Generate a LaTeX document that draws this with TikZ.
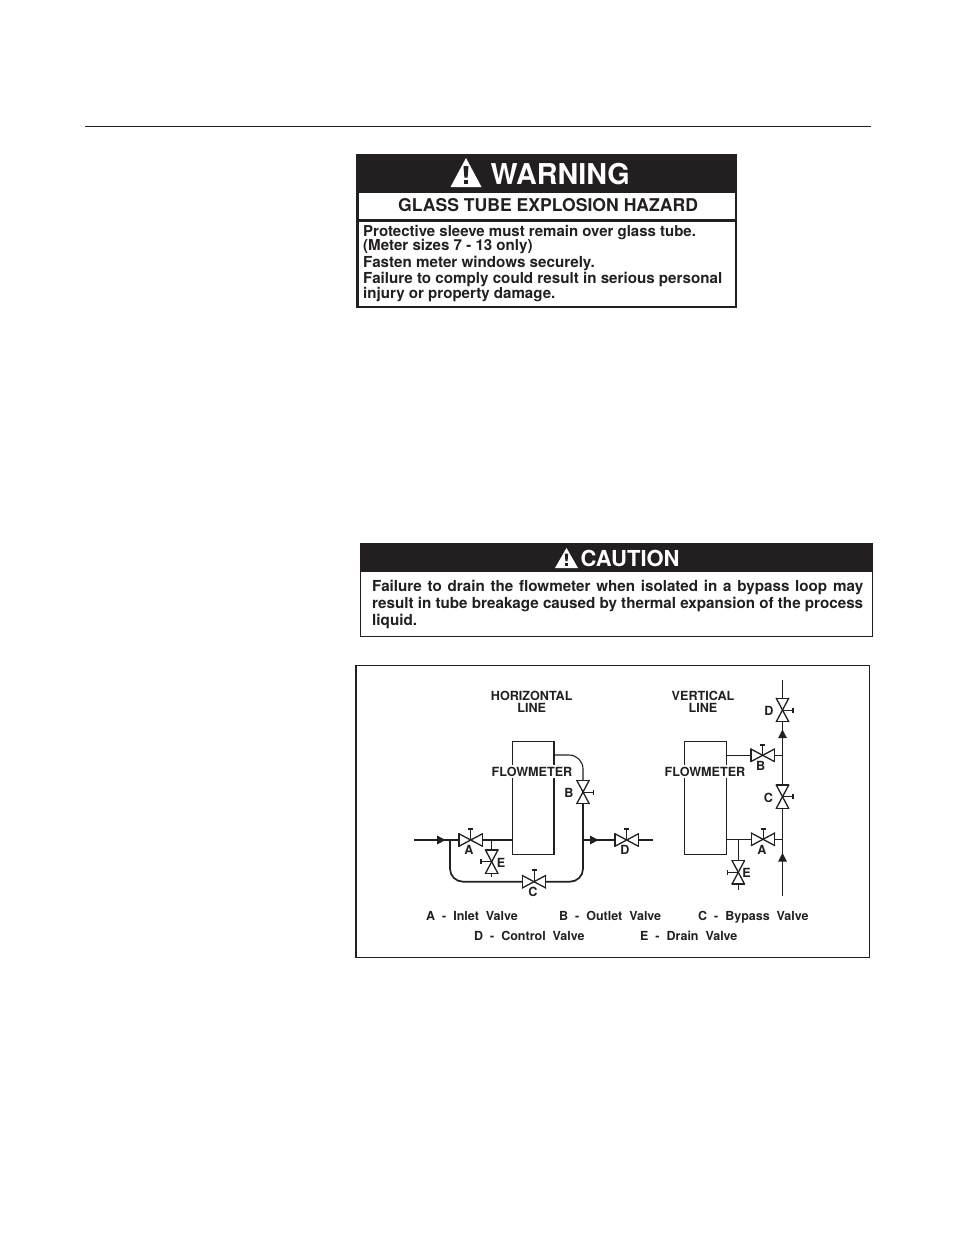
\documentclass[tikz,border=0pt]{standalone}
\usepackage{fontspec}
\setmainfont{TeX Gyre Heros}
\usepackage{xcolor}
\usetikzlibrary{
    arrows.meta,
    calc,
    positioning
}
\definecolor{ink}{HTML}{231F20}
\tikzset{
    frameline/.style={draw=ink, line width=#1},
    basetext/.style={anchor=base west, inner sep=0, text=ink, font=\fontsize{#1}{#1}\selectfont\bfseries},
    whitetext/.style={anchor=base west, inner sep=0, text=white, font=\fontsize{#1}{#1}\selectfont\bfseries},
    fig/.style={inner sep=0, text=ink, font=\fontsize{12.6}{12.6}\selectfont\bfseries},
    legend/.style={anchor=base west, inner sep=0, text=ink, font=\fontsize{12.5}{12.5}\selectfont\bfseries},
    pipe/.style={draw=ink, line width=1.7pt},
    thinpipe/.style={draw=ink, line width=1.1pt},
    valveline/.style={draw=ink, line width=1.3pt, line cap=round},
    stem/.style={draw=ink, line width=1pt, -{Bar[width=5pt, line width=1.5pt]}},
    flow/.style={-{Triangle[length=8.5pt, width=8.5pt]}},
    meter/.style={draw=ink, line width=1pt, outer sep=0, inner sep=0, minimum width=42, minimum height=113},
    tag/.style={fig, fill=white, inner xsep=1pt, inner ysep=2pt},
    hvalve/.style={inner sep=0, outer sep=0, minimum width=23.5, minimum height=12.5,
        append after command={
            (\tikzlastnode.north west) edge[valveline] (\tikzlastnode.south east)
            (\tikzlastnode.south east) edge[valveline] (\tikzlastnode.north east)
            (\tikzlastnode.north east) edge[valveline] (\tikzlastnode.south west)
            (\tikzlastnode.south west) edge[valveline] (\tikzlastnode.north west)}},
    vvalve/.style={inner sep=0, outer sep=0, minimum width=12.5, minimum height=23.5,
        append after command={
            (\tikzlastnode.north west) edge[valveline] (\tikzlastnode.south east)
            (\tikzlastnode.south east) edge[valveline] (\tikzlastnode.south west)
            (\tikzlastnode.south west) edge[valveline] (\tikzlastnode.north east)
            (\tikzlastnode.north east) edge[valveline] (\tikzlastnode.north west)}}
}
\begin{document}
\begin{tikzpicture}[x=1pt, y=-1pt]
    \useasboundingbox (0,0) rectangle (954,1235);
    \draw[frameline=1pt] (85,126.5) -- (871,126.5);

    % warning panel
    \draw[frameline=2.6pt] (357.2,155) rectangle (735.8,307);
    \fill[ink] (356,154) rectangle (737,192.5);
    \fill[ink] (356,218.5) rectangle (737,221.5);
    \fill[white] (466,158) -- (481.5,187) -- (450.5,187) -- cycle;
    \fill[ink] (463.5,166) -- (468.5,166) -- (467.6,177.5) -- (464.4,177.5) -- cycle;
    \fill[ink] (463.8,179.5) rectangle (468.2,184);
    \node[whitetext=28.7] (warnhead) at (490.5,184.5) {WARNING};
    \node[basetext=17.6] (warnsub) at (398,211) {GLASS TUBE EXPLOSION HAZARD};
    \node[basetext=15] (warna) at (363,236) {Protective sleeve must remain over glass tube.};
    \node[basetext=15.1] (warnb) at (363,250) {(Meter sizes 7 - 13 only)};
    \node[basetext=15.2] (warnc) at (363,267) {Fasten meter windows securely.};
    \node[basetext=15.17] (warnd) at (363,283) {Failure to comply could result in serious personal};
    \node[basetext=15.1] (warne) at (363,298) {injury or property damage.};

    % caution panel
    \draw[frameline=1pt] (360.5,543.5) rectangle (872.5,636.5);
    \fill[ink] (360,543) rectangle (873,571.5);
    \fill[white] (566.5,548) -- (578,568) -- (555,568) -- cycle;
    \fill[ink] (564.8,553.5) -- (568.2,553.5) -- (567.6,561) -- (565.4,561) -- cycle;
    \fill[ink] (565,562.5) rectangle (568,565.8);
    \node[whitetext=22] (cauthead) at (580.5,566) {CAUTION};
    \node[basetext=15.2] (cauta) at (372,591.5) {\makebox[491pt][s]{Failure to drain the flowmeter when isolated in a bypass loop may}};
    \node[basetext=15.2] (cautb) at (372,608.5) {\makebox[491pt][s]{result in tube breakage caused by thermal expansion of the process}};
    \node[basetext=15.2] (cautc) at (372,625.5) {liquid.};

    % figure frame
    \draw[frameline=1.6pt] (356,665.5) rectangle (869.5,957.5);

    % horizontal line
    \node[fig] (hhead) at (531.7,696) {HORIZONTAL};
    \node[fig] (hheadb) at (531.7,708) {LINE};
    \node[meter] (hmeter) at (533.2,798) {};
    \draw[pipe] (hmeter.north west) -- (hmeter.north east) -- (hmeter.south east);
    \node[tag] (hname) at (532,771.5) {FLOWMETER};
    \coordinate (hin) at (414,840);
    \coordinate (htip) at (445.5,840);
    \coordinate (hjoin) at (450,840);
    \node[hvalve] (ha) at (470.7,840) {};
    \node[vvalve] (he) at (491.7,861.7) {};
    \node[hvalve] (hc) at (534,881.7) {};
    \node[vvalve] (hb) at (583,792) {};
    \node[hvalve] (hd) at (626.7,840) {};
    \coordinate (hout) at (hb.south |- hd.center);
    \coordinate (houttip) at (598.5,840);
    \coordinate (hend) at (652.7,840);
    \coordinate (hbtap) at (554,755);
    \draw[pipe] (hin) -- (ha.west);
    \draw[pipe, flow] (hin) -- (htip);
    \draw[pipe] (ha.east) -- (ha.east -| hmeter.west);
    \draw[pipe, rounded corners=13] (hjoin) |- (hc.west);
    \draw[pipe, rounded corners=13] (hc.east) -| (hb.south);
    \draw[pipe] (hout) -- (hd.west);
    \draw[pipe, flow] (hout) -- (houttip);
    \draw[pipe] (hd.east) -- (hend);
    \draw[thinpipe, rounded corners=14] (hbtap) -| (hb.north);
    \draw[thinpipe] (he.center |- hjoin) -- (he.north);
    \draw[thinpipe] (he.south) -- ++(0,4);
    \draw[stem] (ha.center) -- ++(0,-12);
    \draw[stem] (hd.center) -- ++(0,-12);
    \draw[stem] (hc.center) -- ++(0,-12.5);
    \draw[stem] (he.center) -- ++(-11.7,0);
    \draw[stem] (hb.center) -- ++(11.3,0);
    \node[fig] (hla) at (469,850) {A};
    \node[fig] (hle) at (501,862.5) {E};
    \node[fig] (hlc) at (533,892) {C};
    \node[fig] (hlb) at (569,793) {B};
    \node[fig] (hld) at (625,850) {D};

    % vertical line
    \node[fig] (vhead) at (703,696) {VERTICAL};
    \node[fig] (vheadb) at (703,708) {LINE};
    \node[meter] (vmeter) at (705.5,798) {};
    \draw[pipe] (vmeter.south west) -- (vmeter.north west) -- (vmeter.north east);
    \node[tag] (vname) at (705,771.5) {FLOWMETER};
    \node[vvalve] (vd) at (782.5,710) {};
    \node[vvalve] (vc) at (782.5,796.7) {};
    \node[hvalve] (vb) at (762.7,755.3) {};
    \node[hvalve] (va) at (763,839.3) {};
    \node[vvalve] (ve) at (738.3,872.3) {};
    \coordinate (vin) at (782.5,896);
    \coordinate (vtop) at (782.5,680);
    \coordinate (vtipa) at (782.5,853);
    \coordinate (vtipb) at (782.5,729.5);
    \draw[thinpipe] (vin) -- (vc.south);
    \draw[thinpipe] (vc.north) -- (vd.south);
    \draw[thinpipe] (vd.north) -- (vtop);
    \draw[thinpipe, flow] (782.5,862) -- (vtipa);
    \draw[thinpipe, flow] (782.5,738) -- (vtipb);
    \draw[thinpipe] (vmeter.east |- vb.center) -- (vb.west);
    \draw[thinpipe] (vb.east) -- (vb.east -| vc.center);
    \draw[thinpipe] (vmeter.east |- va.center) -- (va.west);
    \draw[thinpipe] (va.east) -- (va.east -| vc.center);
    \draw[thinpipe] (ve.center |- va.center) -- (ve.north);
    \draw[thinpipe] (ve.south) -- ++(0,5.5);
    \draw[stem] (vd.center) -- ++(11,0);
    \draw[stem] (vc.center) -- ++(11,0);
    \draw[stem] (vb.center) -- ++(0,-11.3);
    \draw[stem] (va.center) -- ++(0,-11);
    \draw[stem] (ve.center) -- ++(-11.6,0);
    \node[fig] (vld) at (769,710.7) {D};
    \node[fig] (vlc) at (768.5,798) {C};
    \node[fig] (vlb) at (760.7,765.5) {B};
    \node[fig] (vla) at (762,850) {A};
    \node[fig] (vle) at (746.5,872.7) {E};

    % legend
    \node[legend] (lega) at (426,920) {A\ \ -\ \ Inlet\ \ Valve};
    \node[legend] (legb) at (559,920) {B\ \ -\ \ Outlet\ \ Valve};
    \node[legend] (legc) at (698,920) {C\ \ -\ \ Bypass\ \ Valve};
    \node[legend] (legd) at (474,940) {D\ \ -\ \ Control\ \ Valve};
    \node[legend] (lege) at (640,940) {E\ \ -\ \ Drain\ \ Valve};
\end{tikzpicture}
\end{document}
